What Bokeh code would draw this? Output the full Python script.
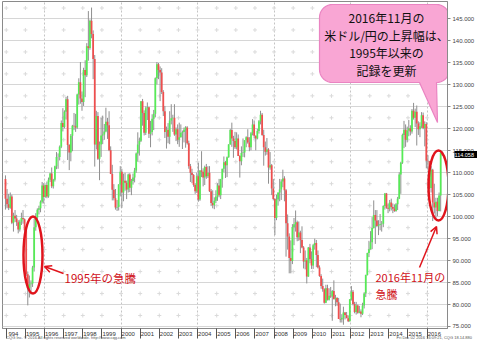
import numpy as np
import pandas as pd
from bokeh.plotting import figure
from bokeh.models import (FixedTicker, PrintfTickFormatter, Label, Arrow, OpenHead,
                          ColumnDataSource, Range1d, LinearAxis)
from bokeh.embed import file_html
from bokeh.resources import INLINE

# ---------------- data: USD/JPY monthly bars, Feb 1994 - Dec 2016 ----------------
start_month = "1994-02"
opens = [
    108.6, 104.1, 102.8, 102.0, 104.6, 98.6, 100.2, 99.6, 98.7, 97.1, 98.9,
    99.7, 99.4, 96.9, 86.9, 83.8, 84.6, 84.8, 88.4, 97.6, 99.8, 101.6, 101.9,
    103.4, 107.1, 104.5, 107.2, 104.6, 108.4, 109.8, 106.9, 108.4, 111.5, 113.6, 113.6,
    115.9, 121.3, 120.4, 123.9, 126.7, 116.3, 114.6, 118.4, 120.7, 120.6, 120.3, 127.8,
    130.6, 126.9, 126.1, 133.4, 132.2, 138.8, 138.4, 144.6, 141.6, 135.9, 116.4, 122.9,
    113.2, 116.4, 118.5, 118.7, 119.4, 121.6, 120.8, 115.1, 109.7, 106.1, 104.2, 102.1,
    102.2, 107.3, 110.2, 105.5, 108.2, 107.7, 106.2, 109.6, 106.6, 108.1, 108.9, 110.5,
    114.4, 116.4, 117.3, 126.3, 123.6, 119.1, 124.7, 124.9, 118.9, 119.3, 122.3, 123.4,
    131.5, 134.7, 133.4, 132.8, 128.4, 124.0, 119.3, 119.8, 118.2, 121.9, 122.4, 122.5,
    118.7, 119.9, 117.5, 118.1, 119.1, 119.3, 119.8, 120.3, 116.7, 111.5, 110.0, 109.5,
    107.2, 105.8, 109.2, 103.9, 110.5, 110.2, 108.9, 111.3, 109.2, 110.0, 105.8, 103.1,
    102.6, 103.6, 104.6, 107.1, 104.9, 108.5, 110.9, 112.4, 111.7, 113.5, 116.4, 119.7,
    117.8, 117.2, 115.8, 117.8, 113.8, 112.6, 114.5, 114.6, 117.4, 118.1, 116.9, 115.8,
    119.0, 121.0, 118.4, 117.8, 119.5, 121.7, 123.2, 118.6, 115.8, 114.8, 115.3, 111.2,
    111.7, 106.4, 104.0, 99.7, 103.9, 105.5, 106.2, 108.0, 108.7, 106.0, 98.5, 95.5,
    90.6, 89.9, 97.6, 98.3, 98.7, 95.3, 96.4, 94.7, 93.0, 89.8, 90.1, 86.4,
    93.0, 90.3, 88.9, 93.5, 94.0, 91.3, 88.4, 86.5, 84.2, 83.5, 80.4, 83.7,
    81.1, 82.0, 81.8, 83.1, 81.2, 81.5, 80.5, 76.7, 76.6, 77.0, 78.2, 77.6,
    76.9, 76.2, 81.2, 82.9, 80.1, 78.3, 79.8, 78.1, 78.4, 77.9, 79.8, 82.5,
    86.7, 91.7, 92.6, 94.2, 97.4, 100.4, 99.1, 97.9, 98.1, 98.3, 98.4, 102.4,
    105.3, 102.0, 101.8, 103.2, 102.2, 101.8, 101.3, 102.8, 104.1, 109.6, 112.3, 118.6,
    119.8, 117.5, 119.6, 120.1, 119.4, 124.1, 122.5, 123.9, 121.2, 119.9, 120.6, 123.1,
    120.2, 121.1, 112.7, 112.6, 106.5, 110.7, 103.2, 102.1, 103.4, 101.3, 104.8, 114.5,
]
highs = [
    109.4, 106.3, 105.2, 105.5, 105.0, 100.9, 101.5, 100.4, 99.2, 99.3, 100.9,
    101.5, 99.6, 97.3, 87.5, 86.6, 85.5, 88.8, 99.5, 100.8, 101.9, 102.5, 103.7,
    107.9, 107.6, 107.3, 108.0, 108.9, 110.0, 111.2, 108.6, 111.6, 114.7, 114.4, 116.2,
    121.9, 124.7, 124.2, 127.3, 127.5, 116.5, 118.8, 120.9, 123.6, 123.4, 128.0, 131.5,
    135.2, 128.5, 133.9, 135.6, 139.5, 146.8, 144.9, 147.6, 142.4, 136.8, 124.1, 123.8,
    117.1, 122.5, 123.0, 121.1, 124.8, 122.5, 124.0, 116.0, 111.8, 107.4, 106.3, 103.8,
    107.4, 111.5, 110.9, 109.8, 110.0, 108.2, 109.8, 109.9, 108.6, 109.8, 111.1, 114.6,
    119.2, 118.0, 126.3, 126.8, 124.2, 125.1, 126.0, 125.0, 121.8, 123.3, 124.3, 131.7,
    135.2, 135.0, 134.2, 133.8, 128.8, 125.2, 120.5, 121.3, 124.0, 125.6, 123.2, 125.6,
    120.3, 121.0, 121.4, 121.0, 119.6, 120.3, 120.6, 120.6, 117.3, 112.0, 110.9, 109.7,
    107.6, 110.0, 112.3, 110.6, 114.9, 111.0, 111.6, 112.0, 111.5, 111.5, 106.3, 106.0,
    104.4, 106.0, 107.6, 108.6, 108.6, 110.9, 113.7, 112.7, 113.7, 116.5, 120.0, 121.4,
    118.4, 119.3, 119.2, 118.7, 114.0, 116.0, 117.8, 117.4, 118.3, 119.9, 118.1, 119.3,
    122.2, 121.9, 118.5, 120.0, 122.0, 124.1, 123.6, 119.8, 117.1, 117.9, 115.6, 114.7,
    112.0, 108.6, 104.2, 105.0, 105.5, 108.6, 108.5, 110.7, 109.2, 106.3, 100.5, 96.2,
    94.6, 98.3, 99.7, 101.4, 99.1, 98.9, 96.8, 97.8, 93.3, 92.3, 90.6, 93.1,
    93.8, 92.1, 93.8, 95.0, 94.7, 92.3, 88.9, 86.9, 85.9, 83.7, 84.5, 84.5,
    83.7, 84.0, 83.3, 85.5, 82.2, 81.7, 81.5, 80.2, 77.8, 79.5, 78.3, 78.3,
    77.5, 81.2, 84.2, 83.3, 80.6, 80.6, 80.0, 79.7, 78.9, 80.4, 82.8, 86.8,
    91.8, 94.5, 96.7, 99.9, 103.7, 101.5, 101.5, 99.2, 100.6, 99.0, 102.6, 105.4,
    105.4, 103.0, 103.8, 104.1, 103.0, 102.8, 103.1, 104.5, 110.1, 112.5, 118.9, 121.8,
    121.0, 120.5, 122.0, 120.8, 124.5, 125.9, 124.6, 125.3, 121.7, 121.5, 123.8, 123.7,
    121.7, 121.5, 114.0, 112.7, 111.5, 110.9, 107.5, 104.3, 104.3, 105.5, 114.8, 114.8,
]
lows = [
    101.6, 101.9, 101.5, 101.8, 98.3, 96.6, 98.8, 97.9, 96.2, 96.6, 98.1,
    98.4, 95.7, 86.5, 79.8, 81.6, 82.3, 84.0, 87.5, 96.8, 98.8, 100.5, 101.0,
    103.0, 103.0, 104.3, 104.2, 104.3, 107.9, 106.5, 106.4, 108.0, 110.8, 110.9, 112.8,
    115.6, 119.4, 120.1, 122.1, 112.9, 110.6, 112.6, 114.9, 119.7, 119.3, 120.0, 125.5,
    125.7, 124.1, 125.2, 127.2, 131.8, 135.5, 138.0, 140.6, 131.3, 111.4, 115.3, 112.9,
    108.3, 113.6, 116.5, 117.5, 119.2, 117.7, 114.9, 109.7, 103.7, 103.7, 101.6, 101.3,
    101.4, 104.6, 102.0, 103.5, 105.9, 104.0, 105.5, 105.6, 104.9, 107.3, 107.8, 110.0,
    112.5, 113.9, 117.0, 120.7, 118.5, 118.6, 122.0, 117.9, 115.8, 118.5, 119.7, 122.6,
    130.1, 131.3, 126.3, 127.9, 122.9, 117.9, 115.5, 116.7, 116.5, 121.0, 119.3, 118.4,
    117.2, 116.5, 115.9, 118.0, 115.4, 116.9, 115.7, 116.4, 110.9, 107.9, 107.6, 106.8,
    105.2, 105.4, 103.4, 103.6, 109.0, 106.9, 107.2, 108.6, 108.8, 105.6, 102.4, 101.9,
    101.7, 103.1, 103.6, 104.4, 104.0, 106.6, 110.1, 108.8, 109.0, 113.4, 116.4, 115.9,
    113.4, 115.4, 115.3, 113.8, 108.9, 111.7, 113.6, 113.5, 115.8, 116.6, 114.9, 115.1,
    118.5, 117.8, 115.1, 117.6, 118.9, 121.0, 118.4, 111.6, 113.9, 114.1, 107.5, 110.7,
    104.9, 103.7, 95.8, 99.2, 102.5, 103.5, 103.8, 106.7, 103.5, 90.9, 92.5, 87.1,
    87.1, 89.2, 93.5, 96.6, 94.4, 94.5, 91.7, 92.8, 88.2, 88.0, 84.8, 86.3,
    89.4, 88.1, 88.1, 92.5, 88.5, 88.2, 86.3, 83.6, 82.9, 80.2, 80.3, 80.9,
    80.9, 81.5, 76.3, 81.2, 79.6, 79.7, 76.7, 75.9, 75.9, 75.4, 76.6, 76.9,
    76.0, 76.1, 80.9, 79.8, 78.0, 77.7, 77.9, 78.0, 77.1, 77.6, 79.1, 81.7,
    86.6, 90.8, 92.5, 92.6, 97.3, 93.8, 97.6, 95.8, 96.9, 96.6, 97.6, 101.6,
    101.8, 100.8, 101.2, 101.4, 100.8, 101.1, 101.1, 101.5, 104.0, 105.2, 112.0, 115.6,
    115.9, 116.9, 118.3, 118.5, 118.9, 122.1, 120.4, 116.2, 118.6, 118.1, 120.2, 119.9,
    116.0, 111.0, 110.7, 106.3, 105.5, 99.0, 100.7, 99.5, 100.1, 101.2, 101.2, 113.8,
]
closes = [
    104.1, 102.8, 102.0, 104.6, 98.6, 100.2, 99.6, 98.7, 97.1, 98.9, 99.7,
    99.4, 96.9, 86.9, 83.8, 84.6, 84.8, 88.4, 97.6, 99.8, 101.6, 101.9, 103.4,
    107.1, 104.5, 107.2, 104.6, 108.4, 109.8, 106.9, 108.4, 111.5, 113.6, 113.6, 115.9,
    121.3, 120.4, 123.9, 126.7, 116.3, 114.6, 118.4, 120.7, 120.6, 120.3, 127.8, 130.6,
    126.9, 126.1, 133.4, 132.2, 138.8, 138.4, 144.6, 141.6, 135.9, 116.4, 122.9, 113.2,
    116.4, 118.5, 118.7, 119.4, 121.6, 120.8, 115.1, 109.7, 106.1, 104.2, 102.1, 102.2,
    107.3, 110.2, 105.5, 108.2, 107.7, 106.2, 109.6, 106.6, 108.1, 108.9, 110.5, 114.4,
    116.4, 117.3, 126.3, 123.6, 119.1, 124.7, 124.9, 118.9, 119.3, 122.3, 123.4, 131.5,
    134.7, 133.4, 132.8, 128.4, 124.0, 119.3, 119.8, 118.2, 121.9, 122.4, 122.5, 118.7,
    119.9, 117.5, 118.1, 119.1, 119.3, 119.8, 120.3, 116.7, 111.5, 110.0, 109.5, 107.2,
    105.8, 109.2, 103.9, 110.5, 110.2, 108.9, 111.3, 109.2, 110.0, 105.8, 103.1, 102.6,
    103.6, 104.6, 107.1, 104.9, 108.5, 110.9, 112.4, 111.7, 113.5, 116.4, 119.7, 117.8,
    117.2, 115.8, 117.8, 113.8, 112.6, 114.5, 114.6, 117.4, 118.1, 116.9, 115.8, 119.0,
    121.0, 118.4, 117.8, 119.5, 121.7, 123.2, 118.6, 115.8, 114.8, 115.3, 111.2, 111.7,
    106.4, 104.0, 99.7, 103.9, 105.5, 106.2, 108.0, 108.7, 106.0, 98.5, 95.5, 90.6,
    89.9, 97.6, 98.3, 98.7, 95.3, 96.4, 94.7, 93.0, 89.8, 90.1, 86.4, 93.0,
    90.3, 88.9, 93.5, 94.0, 91.3, 88.4, 86.5, 84.2, 83.5, 80.4, 83.7, 81.1,
    82.0, 81.8, 83.1, 81.2, 81.5, 80.5, 76.7, 76.6, 77.0, 78.2, 77.6, 76.9,
    76.2, 81.2, 82.9, 80.1, 78.3, 79.8, 78.1, 78.4, 77.9, 79.8, 82.5, 86.7,
    91.7, 92.6, 94.2, 97.4, 100.4, 99.1, 97.9, 98.1, 98.3, 98.4, 102.4, 105.3,
    102.0, 101.8, 103.2, 102.2, 101.8, 101.3, 102.8, 104.1, 109.6, 112.3, 118.6, 119.8,
    117.5, 119.6, 120.1, 119.4, 124.1, 122.5, 123.9, 121.2, 119.9, 120.6, 123.1, 120.2,
    121.1, 112.7, 112.6, 106.5, 110.7, 103.2, 102.1, 103.4, 101.3, 104.8, 114.5, 114.058,
]

year_ticks = list(range(1994, 2017))
year_labels = ["994"] + [str(y) for y in range(1995, 2017)]
price_ticks = list(range(75, 150, 5))
last_price = 114.058
note_lines = ["2016年11月の", "米ドル/円の上昇幅は、", "1995年以来の", "記録を更新"]
label_1995 = "1995年の急騰"
label_2016 = ["2016年11月の", "急騰"]
footer_left = "CQG Inc. © 2016 All rights reserved worldwide. http://www.cqg.com"
footer_right = "Fri Dec 02 2016 16:09:21, CQG 18.14.880"

# ---------------- layout ----------------
W, H = 477, 348
LEFT, RIGHT, TOP, BOTTOM = 2, 30, 1, 20
FW, FH = W - LEFT - RIGHT, H - TOP - BOTTOM
X0, X1 = 1993.928, 2017.19
Y0, Y1 = 74.54, 148.98


def px2x(px):
    return X0 + (px - LEFT) / FW * (X1 - X0)


def py2y(py):
    return Y1 - (py - TOP) / FH * (Y1 - Y0)


SX = (X1 - X0) / FW
SY = (Y1 - Y0) / FH

UP = "#55ec55"
DOWN = "#f04e4e"
WICK = "#8f8f8f"
RED = "#e0141c"
TEXT_RED = "#d01018"
CJK = "Noto Sans CJK JP"
SANS = "Liberation Sans"

dates = pd.date_range(start_month + "-01", periods=len(closes), freq="MS")
t = np.asarray(dates.year + (dates.month - 1) / 12.0, dtype=float)
o = np.array(opens)
c = np.array(closes)
src = ColumnDataSource(dict(
    t=t, h=highs, l=lows,
    top=np.maximum(o, c), bottom=np.minimum(o, c),
    color=[UP if cc >= oo else DOWN for oo, cc in zip(o, c)],
))

p = figure(width=W, height=H, x_range=Range1d(X0, X1), y_range=Range1d(Y0, Y1),
           y_axis_location="right", toolbar_location=None, output_backend="svg",
           min_border_left=LEFT, min_border_right=RIGHT,
           min_border_top=TOP, min_border_bottom=BOTTOM)
p.background_fill_color = "white"
p.border_fill_color = "white"
p.outline_line_color = "#8a8a8a"

# x axis: year labels between boundary ticks
xa = p.xaxis[0]
xa.ticker = FixedTicker(ticks=[y + 0.5 for y in year_ticks],
                        minor_ticks=[y + 0.125 for y in year_ticks])
xa.major_label_overrides = {y + 0.5: lab for y, lab in zip(year_ticks, year_labels)}
xa.major_tick_out = 0
xa.major_tick_in = 0
xa.minor_tick_out = 10
xa.minor_tick_in = 0
xa.minor_tick_line_color = "#555555"
xa.axis_line_color = "#8a8a8a"
xa.major_label_text_font = SANS
xa.major_label_text_font_size = "6px"
xa.major_label_text_color = "#333333"
xa.major_label_standoff = -7

# footer line as a second, bare axis below
footer_pos = {1997.25: footer_left, 2016.5: footer_right}
fa = LinearAxis(ticker=FixedTicker(ticks=list(footer_pos)),
                major_label_overrides=footer_pos,
                axis_line_color=None, major_tick_line_color=None, minor_tick_line_color=None,
                major_tick_out=0, major_tick_in=0, minor_tick_out=0, minor_tick_in=0,
                major_label_text_font=SANS, major_label_text_font_size="4px",
                major_label_text_color="#555555", major_label_standoff=-4)
p.add_layout(fa, "below")

# y axis on the right
ya = p.yaxis[0]
ya.ticker = FixedTicker(ticks=price_ticks)
ya.formatter = PrintfTickFormatter(format="%.3f")
ya.major_tick_out = 3
ya.major_tick_in = 0
ya.minor_tick_out = 0
ya.minor_tick_in = 0
ya.axis_line_color = "#8a8a8a"
ya.major_tick_line_color = "#8a8a8a"
ya.major_label_text_font = SANS
ya.major_label_text_font_size = "6px"
ya.major_label_text_color = "#444444"
ya.major_label_standoff = 2

# last-price tag: a thick black tick with the white label on it
ta = LinearAxis(ticker=FixedTicker(ticks=[last_price]),
                formatter=PrintfTickFormatter(format="%.3f"),
                axis_line_color=None, minor_tick_line_color=None,
                major_tick_line_color="black", major_tick_line_width=7,
                major_tick_in=23, major_tick_out=2,
                major_label_standoff=-25, major_label_text_color="white",
                major_label_text_font=SANS, major_label_text_font_size="5.5px")
p.add_layout(ta, "right")

# grids
p.ygrid.ticker = FixedTicker(ticks=price_ticks)
p.ygrid.grid_line_color = "#d6d6d6"
p.xgrid.ticker = FixedTicker(ticks=[y + 0.125 for y in year_ticks if y % 4 == 0])
p.xgrid.grid_line_color = "#c4c4c4"
p.xgrid.grid_line_dash = "2 2"

mids = [v + 2.5 for v in price_ticks]
gx = [y + 0.125 for y in year_ticks for _ in mids]
gy = [m for _ in year_ticks for m in mids]
p.scatter(gx, gy, marker="cross", size=4, line_color="#dadada", line_width=1)

# candles
p.segment(x0="t", y0="l", x1="t", y1="h", source=src, line_color=WICK, line_width=1)
p.vbar(x="t", width=1.1 / 12, top="top", bottom="bottom", source=src,
       fill_color="color", line_color=None)

# ellipses
p.ellipse(x=[px2x(32.5), px2x(438)], y=[py2y(254.5), py2y(185)],
          width=[19 * SX, 20 * SX], height=[77 * SY, 70 * SY],
          fill_color=None, line_color=RED, line_width=2.5)

# arrows
for (xs, ys, xe, ye) in [(63, 273, 44, 266), (419, 267, 436, 226)]:
    p.add_layout(Arrow(end=OpenHead(size=7, line_color=RED, line_width=1.5),
                       x_start=px2x(xs), y_start=py2y(ys), x_end=px2x(xe), y_end=py2y(ye),
                       line_color=RED, line_width=1.5))

# red labels
p.add_layout(Label(x=px2x(64), y=py2y(277), text=label_1995, text_font=CJK,
                   text_font_size="11.5px", text_color=TEXT_RED,
                   text_align="left", text_baseline="middle"))
for i, line in enumerate(label_2016):
    p.add_layout(Label(x=px2x(375), y=py2y(276.5 + 17 * i), text=line, text_font=CJK,
                       text_font_size="11px", text_color=TEXT_RED,
                       text_align="left", text_baseline="middle"))

# speech bubble
L_, R_, T_, B_, r = 319, 449, 4, 82, 13
tip = (437, 122)
tail_left = 419


def arc(cx, cy, a0, a1, n=10):
    a = np.radians(np.linspace(a0, a1, n))
    return list(cx + r * np.cos(a)), list(cy + r * np.sin(a))


bx, by = [], []
for seg in [arc(R_ - r, T_ + r, -90, 0), arc(R_ - r, B_ - r, 0, 90)]:
    bx += seg[0]
    by += seg[1]
bx += [tip[0], tail_left]
by += [tip[1], B_]
for seg in [arc(L_ + r, B_ - r, 90, 180), arc(L_ + r, T_ + r, 180, 270)]:
    bx += seg[0]
    by += seg[1]
p.patch([px2x(v) for v in bx], [py2y(v) for v in by],
        fill_color="#f9a6d4", line_color="#ea84c2", line_width=1.2)

for i, line in enumerate(note_lines):
    p.add_layout(Label(x=px2x(386), y=py2y(17 + 17.6 * i), text=line, text_font=CJK,
                       text_font_size="12px", text_color="#111111",
                       text_align="center", text_baseline="middle"))

open("out.html", "w").write(file_html(p, INLINE))
